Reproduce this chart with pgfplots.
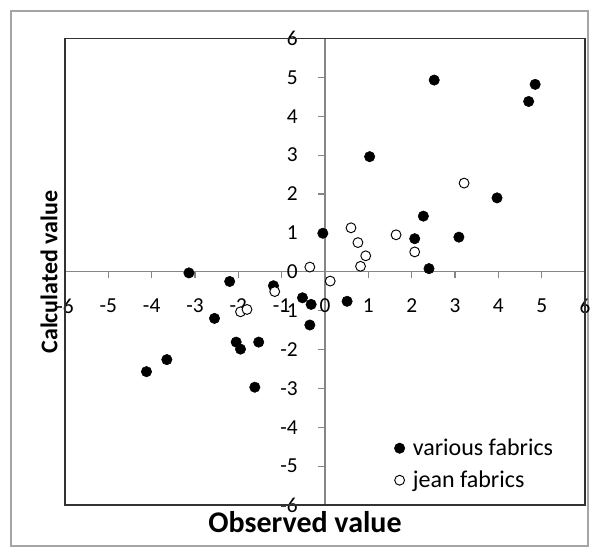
\documentclass[border=0pt]{standalone}
\usepackage{fontspec}
\setmainfont{Carlito}
\usepackage{pgfplots}
\pgfplotsset{compat=1.18}
\definecolor{axgray}{RGB}{134,134,134}
\definecolor{boxgray}{RGB}{50,50,50}
\definecolor{outergray}{RGB}{165,165,165}

\begin{document}
\begin{tikzpicture}[x=1pt,y=1pt]
\path[use as bounding box] (0,0) rectangle (447,414.75);
\draw[outergray, line width=0.9pt] (8.25,5.25) rectangle (441,406.5);
\begin{axis}[
    at={(48.75pt,36pt)}, anchor=south west,
    scale only axis, width=390pt, height=349.875pt,
    xmin=-6, xmax=6, ymin=-6, ymax=6,
    axis lines=middle,
    axis line style={axgray, line width=0.8pt, -},
    xtick={-6,...,6}, ytick={-6,...,6},
    extra x ticks={0}, extra y ticks={0},
    tick style={axgray, line width=0.8pt},
    major tick length=5pt, tick align=outside,
    /pgf/number format/assume math mode=true,
    tick label style={font=\fontsize{16}{16}\selectfont},
    xticklabel style={yshift=-12pt},
    yticklabel style={xshift=-12pt},
    clip=false,
    legend style={at={(rel axis cs:0.633,0.148)}, anchor=north west,
        draw=none, fill=none, inner sep=0pt, row sep=6pt, column sep=4pt,
        font=\fontsize{18}{20}\selectfont},
    legend cell align=left,
    legend image code/.code={\draw[#1] plot coordinates {(0.15cm,0cm)};},
]
\addplot[only marks, mark=*, mark size=3.9pt,
    mark options={fill=black, draw=black}] coordinates {
    (2.52,4.93) (4.85,4.82) (4.70,4.38) (1.03,2.96) (3.97,1.90)
    (2.27,1.43) (-0.05,0.99) (2.07,0.85) (3.09,0.89) (2.40,0.08)
    (0.51,-0.76) (-3.14,-0.03) (-2.20,-0.25) (-1.19,-0.36) (-0.52,-0.67)
    (-0.32,-0.84) (-0.35,-1.37) (-2.55,-1.20) (-2.05,-1.81) (-1.95,-1.99)
    (-1.53,-1.81) (-3.65,-2.26) (-4.12,-2.57) (-1.62,-2.97)
};
\addlegendentry{various fabrics}
\addplot[only marks, mark=*, mark size=3.7pt,
    mark options={fill=white, draw=black, line width=0.7pt}] coordinates {
    (3.21,2.28) (0.60,1.13) (0.76,0.75) (0.94,0.41) (0.82,0.14)
    (1.64,0.95) (2.07,0.51) (0.12,-0.24) (-0.35,0.12) (-1.16,-0.51)
    (-1.95,-1.03) (-1.80,-0.97)
};
\addlegendentry{jean fabrics}
\draw[boxgray, line width=0.9pt] (rel axis cs:0,0) rectangle (rel axis cs:1,1);
\end{axis}
\node[font=\fontsize{22.5}{22.5}\selectfont\bfseries] at (228.75,23.25) {Observed value};
\node[font=\fontsize{18}{18}\selectfont\bfseries, rotate=90] at (36.75,210.75) {Calculated value};
\end{tikzpicture}
\end{document}
